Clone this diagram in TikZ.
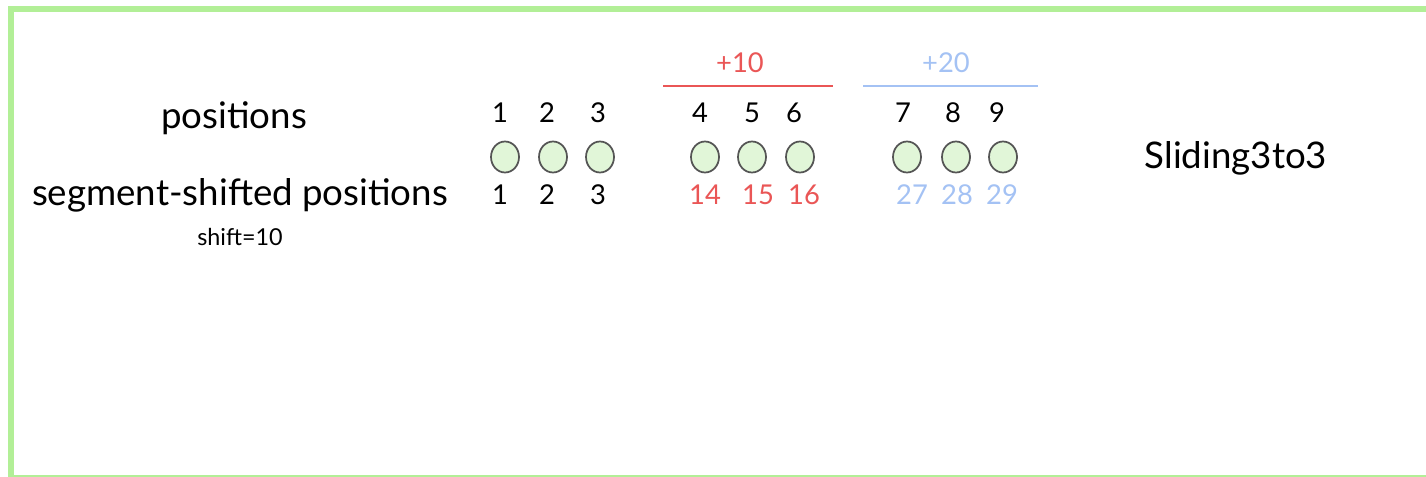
\documentclass[tikz,border=0pt]{standalone}
\usepackage{fontspec}
\setmainfont{Lato}
\definecolor{frameg}{HTML}{B2EF97}
\definecolor{dotfill}{HTML}{E1F6D8}
\definecolor{dotline}{HTML}{555555}
\definecolor{redc}{HTML}{EA5656}
\definecolor{bluec}{HTML}{A4C2F4}
\begin{document}
\begin{tikzpicture}[x=0.75pt,y=-0.75pt,
  dot/.style={ellipse,draw=dotline,fill=dotfill,line width=1.3pt,minimum width=28*0.75pt,minimum height=31*0.75pt,inner sep=0pt},
  num/.style={font=\fontsize{20.5}{24}\selectfont,inner sep=0pt},
  lab/.style={font=\fontsize{27.5}{32}\selectfont,inner sep=0pt},
  small/.style={font=\fontsize{17.5}{20}\selectfont,inner sep=0pt}]
\usetikzlibrary{shapes.geometric}
\useasboundingbox (0,0) rectangle (1426,477);
\fill[white] (0,0) rectangle (1426,477);
% frame
\draw[frameg,line width=4.5pt] (11,477) -- (11,9.5) -- (1430,9.5);
\draw[frameg,line width=1.5pt] (8,476) -- (1430,476);
% labels
\node[lab] (pos) at (234,118) {positions};
\node[lab] (seg) at (240,195) {segment-shifted positions};
\node[small] (shift) at (240,237) {shift=10};
\node[lab] (sl) at (1236,158) {Sliding3to3};
% top numbers
\foreach \n/\x in {1/500,2/547,3/598,4/700,5/752,6/794,7/903,8/953,9/997}
  \node[num] (t\n) at (\x,113) {\n};
% dots
\foreach \n/\x in {1/505,2/553,3/600,4/705,5/752,6/800,7/907,8/956,9/1003}
  \node[dot] (d\n) at (\x,157) {};
% bottom numbers
\foreach \n/\x in {1/500,2/547,3/598}
  \node[num] (b\n) at (\x,195) {\n};
\foreach \n/\x in {14/705,15/758,16/804}
  \node[num,text=redc] (b\n) at (\x,195) {\n};
\foreach \n/\x in {27/912,28/957,29/1002}
  \node[num,text=bluec] (b\n) at (\x,195) {\n};
% group headers
\node[num,text=redc] (p10) at (740,63) {+10};
\node[num,text=bluec] (p20) at (946,63) {+20};
\coordinate (r1) at (663,86);
\coordinate (r2) at (833,86);
\coordinate (u1) at (863,86);
\coordinate (u2) at (1038,86);
\draw[redc,line width=1.5pt] (r1) -- (r2);
\draw[bluec,line width=1.5pt] (u1) -- (u2);
\end{tikzpicture}
\end{document}
